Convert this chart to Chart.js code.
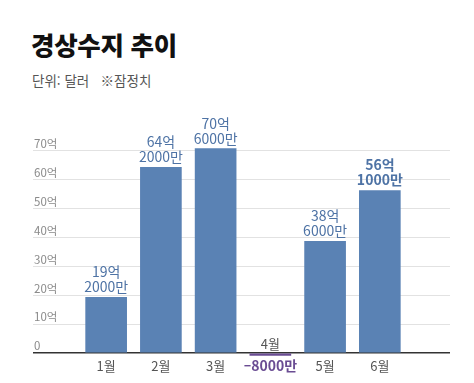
<!DOCTYPE html>
<html lang="ko">
<head>
<meta charset="utf-8">
<script src="https://cdn.jsdelivr.net/npm/chart.js@4.4.1/dist/chart.umd.min.js"></script>
<style>
  html, body { margin: 0; padding: 0; background: #fff; }
  body { width: 474px; height: 383px; position: relative; overflow: hidden; font-family: 'Noto Sans CJK KR', 'Noto Sans', sans-serif; }
  #title { position: absolute; left: 31px; top: 29px; font-size: 25.5px; line-height: 30px; font-weight: 900; color: #111; letter-spacing: -0.3px; }
  #sub { position: absolute; left: 32px; top: 71px; font-size: 13.5px; line-height: 18px; color: #555; }
  canvas { position: absolute; left: 0; top: 0; }
</style>
</head>
<body>
<div id="title">경상수지 추이</div>
<div id="sub">단위: 달러 &nbsp;&nbsp;※잠정치</div>
<canvas id="c" width="474" height="383"></canvas>
<script>
// ---- data ----
const months = ['1월', '2월', '3월', '4월', '5월', '6월'];
const values = [19.2, 64.2, 70.6, -0.8, 38.6, 56.1];   // 단위: 억 달러
const yTicks = [0, 10, 20, 30, 40, 50, 60, 70];
const highlightMonth = '6월';

const BAR = '#5a82b4', NEG = '#6a4c93', LABEL = '#4e73a5';
const FONT = "'Noto Sans CJK KR', 'Noto Sans', sans-serif";

function fmt(v) {
  const man = Math.round(v * 10000);
  const sign = man < 0 ? '–' : '';
  const a = Math.abs(man);
  const eok = Math.floor(a / 10000), rest = a % 10000;
  const lines = [];
  if (eok) lines.push(sign + eok + '억');
  if (rest) lines.push((eok ? '' : sign) + rest + '만');
  return lines;
}

const labelPlugin = {
  id: 'vlabels',
  afterDatasetsDraw(chart) {
    const ctx = chart.ctx;
    const meta = chart.getDatasetMeta(0);
    ctx.save();
    ctx.textAlign = 'center';
    ctx.textBaseline = 'middle';
    meta.data.forEach((bar, i) => {
      const v = values[i];
      const lines = fmt(v);
      if (v >= 0) {
        const bold = months[i] === highlightMonth;
        ctx.font = (bold ? 'bold ' : '') + '14px ' + FONT;
        ctx.fillStyle = LABEL;
        const n = lines.length;
        lines.forEach((t, k) => {
          ctx.fillText(t, bar.x, bar.y - 10.5 - (n - 1 - k) * 15);
        });
      } else {
        ctx.font = '13px ' + FONT;
        ctx.fillStyle = '#555';
        ctx.fillText(months[i], bar.x, bar.base - 10);
        ctx.font = 'bold 14px ' + FONT;
        ctx.fillStyle = NEG;
        ctx.fillText(lines.join(' '), bar.x, chart.chartArea.bottom + 10);
      }
    });
    ctx.restore();
  }
};

new Chart(document.getElementById('c'), {
  type: 'bar',
  data: {
    datasets: [{
      data: values.map((v, i) => ({ x: i + 1, y: v })),
      backgroundColor: values.map(v => v < 0 ? NEG : BAR),
      barThickness: 41,
      borderWidth: 0
    }]
  },
  options: {
    responsive: false,
    animation: false,
    devicePixelRatio: 1,
    layout: { padding: { left: 31, right: 24, top: 121.5, bottom: 7.5 } },
    plugins: { legend: { display: false }, tooltip: { enabled: false } },
    scales: {
      x: {
        type: 'linear',
        offset: false,
        min: -0.3364,
        max: 7.282,
        afterBuildTicks: s => { s.ticks = months.map((m, i) => ({ value: i + 1 })); },
        grid: { display: false, drawTicks: false, offset: false },
        border: { display: false },
        ticks: {
          padding: 2,
          color: '#555',
          font: { family: FONT, size: 13 },
          autoSkip: false,
          maxRotation: 0,
          callback: (val) => { const i = Math.round(val) - 1; return values[i] < 0 ? '' : months[i]; }
        }
      },
      y: {
        min: -1,
        max: 80,
        afterBuildTicks: s => { s.ticks = yTicks.map(v => ({ value: v })); },
        grid: {
          drawTicks: false,
          color: c => c.tick && c.tick.value === 0 ? '#333' : '#e2e2e2',
          lineWidth: c => c.tick && c.tick.value === 0 ? 1.5 : 1
        },
        border: { display: false },
        ticks: {
          mirror: true,
          padding: 1,
          labelOffset: -7,
          color: '#8a8a8a',
          font: { family: FONT, size: 11.5 },
          callback: v => v === 0 ? '0' : v + '억'
        }
      }
    }
  },
  plugins: [labelPlugin]
});
</script>
</body>
</html>
